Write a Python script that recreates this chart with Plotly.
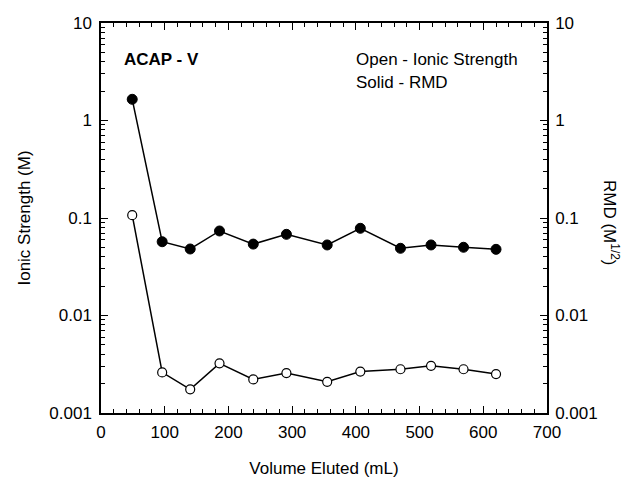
import plotly.graph_objects as go

volume = [49, 96, 140, 186, 239, 291, 355, 407, 470, 518, 569, 620]
ionic_strength = [0.107, 0.00261, 0.00175, 0.00323, 0.00221, 0.00257, 0.00209, 0.00266, 0.00281, 0.00305, 0.00281, 0.00251]
rmd = [1.65, 0.0571, 0.0481, 0.0736, 0.054, 0.068, 0.0529, 0.0784, 0.0489, 0.0529, 0.0501, 0.0477]
y_tickvals = [0.001, 0.01, 0.1, 1, 10]
y_ticktext = ["0.001", "0.01", "0.1", "1", "10"]

FONT = "Liberation Sans, Arial, sans-serif"
FS = 17

fig = go.Figure()
fig.add_trace(go.Scatter(
    x=volume, y=rmd, mode="lines+markers",
    line=dict(color="black", width=1.5),
    marker=dict(symbol="circle", size=10, color="black", line=dict(color="black", width=1)),
    showlegend=False))
fig.add_trace(go.Scatter(
    x=volume, y=ionic_strength, mode="lines+markers",
    line=dict(color="black", width=1.5),
    marker=dict(symbol="circle", size=9, color="white", line=dict(color="black", width=1.2)),
    showlegend=False))
# trace on right axis (no visible marks) so the right axis is drawn
fig.add_trace(go.Scatter(x=[volume[0]], y=[rmd[0]], yaxis="y2", mode="markers",
                         marker=dict(opacity=0), showlegend=False, hoverinfo="skip"))

axis_common = dict(showgrid=False, zeroline=False, linecolor="black", linewidth=1.5,
                   ticks="inside", tickcolor="black", tickwidth=1.2, automargin=False,
                   tickfont=dict(family=FONT, size=FS, color="black"))

fig.update_layout(
    width=634, height=480,
    margin=dict(l=101, r=87, t=23, b=67),
    plot_bgcolor="white", paper_bgcolor="white",
    font=dict(family=FONT, size=FS, color="black"),
    xaxis=dict(range=[0, 700], dtick=100, tick0=0, ticklen=7, showline=True, mirror="ticks",
               ticklabelstandoff=3,
               minor=dict(dtick=20, ticks="inside", ticklen=4, tickcolor="black", tickwidth=1),
               title=dict(text="Volume Eluted (mL)", font=dict(family=FONT, size=FS), standoff=21),
               **axis_common),
    yaxis=dict(type="log", range=[-3, 1], tickvals=y_tickvals, ticktext=y_ticktext, ticklen=7,
               showline=True, mirror=False, ticklabelstandoff=4,
               minor=dict(ticks="inside", ticklen=4, tickcolor="black", tickwidth=1, dtick="D1"),
               title=dict(text="Ionic Strength (M)", font=dict(family=FONT, size=FS), standoff=14),
               **axis_common),
    yaxis2=dict(type="log", range=[-3, 1], tickvals=y_tickvals, ticktext=y_ticktext, ticklen=7,
                overlaying="y", side="right", showline=True, ticklabelstandoff=3,
                minor=dict(ticks="inside", ticklen=4, tickcolor="black", tickwidth=1, dtick="D1"),
                **axis_common),
)

fig.add_annotation(x=611, y=222, text="RMD (M<sup>1/2</sup>)", xanchor="center", yanchor="middle",
                   textangle=90, showarrow=False, font=dict(family=FONT, size=FS, color="black"))
fig.add_annotation(x=122, y=48, text="<b>ACAP - V</b>", showarrow=False, xanchor="left",
                   font=dict(family=FONT, size=17, color="black"))
fig.add_annotation(x=354, y=48, text="Open - Ionic Strength", showarrow=False, xanchor="left",
                   font=dict(family=FONT, size=FS, color="black"))
fig.add_annotation(x=354, y=71, text="Solid - RMD", showarrow=False, xanchor="left",
                   font=dict(family=FONT, size=FS, color="black"))

# convert pixel positions of annotations to paper coordinates
L, R, T, B = 101, 547, 23, 413
for a in fig.layout.annotations:
    a.xref = "paper"; a.yref = "paper"
    px, py = a.x, a.y
    a.x = (px - L) / (R - L)
    a.y = (B - py) / (B - T)

fig.write_html("out.html")
